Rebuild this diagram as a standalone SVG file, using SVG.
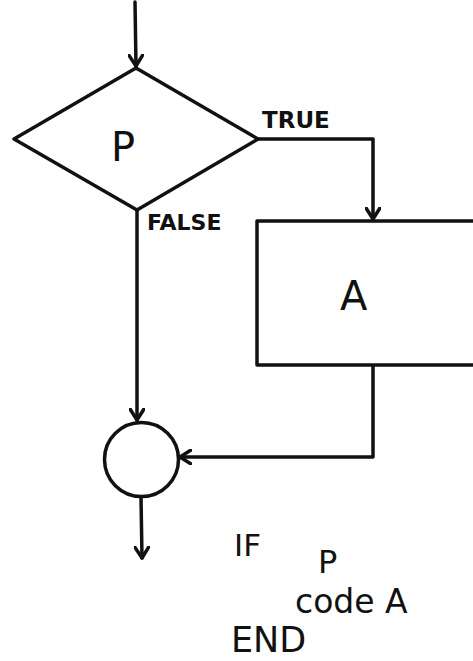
<svg xmlns="http://www.w3.org/2000/svg" width="473" height="661" viewBox="0 0 473 661">
<style>
.s{fill:none;stroke:#111;stroke-width:3.5;stroke-linejoin:round;stroke-linecap:round}
.n{fill:#fff;stroke:#111;stroke-width:3.5;stroke-linejoin:round}
.t{font-family:"DejaVu Sans","Liberation Sans",sans-serif;fill:#111}
.b{font-weight:bold}
</style>
<defs>
<marker id="v" viewBox="-12 -8 14 16" refX="0" refY="0" markerWidth="14" markerHeight="16" markerUnits="userSpaceOnUse" orient="auto">
<path d="M-11,-7 L0,0 L-11,7" fill="none" stroke="#111" stroke-width="3.5" stroke-linecap="round" stroke-linejoin="round"/>
</marker>
</defs>
<rect width="473" height="661" fill="#fff"/>
<g id="connectors">
<path class="s" d="M135,2 L136,66" marker-end="url(#v)"/>
<path class="s" d="M258,139 L373,139 L373,219" marker-end="url(#v)"/>
<path class="s" d="M137,210 L137,420" marker-end="url(#v)"/>
<path class="s" d="M373,364 L373,457 L180,457" marker-end="url(#v)"/>
<path class="s" d="M141,497 L142,558" marker-end="url(#v)"/>
</g>
<g id="decision">
<path class="n" d="M136,68 L258,139 L137,210 L14,139 Z"/>
<text class="t" x="111" y="161" font-size="40">P</text>
<text class="t b" x="262" y="128" font-size="23">TRUE</text>
<text class="t b" x="147" y="230" font-size="22">FALSE</text>
</g>
<g id="process">
<rect class="n" x="257" y="221" width="230" height="144"/>
<text class="t" x="340" y="310" font-size="40">A</text>
</g>
<g id="merge">
<circle class="n" cx="141.5" cy="459.5" r="37"/>
</g>
<g id="code">
<text class="t" x="234" y="556" font-size="31">IF</text>
<text class="t" x="318" y="573" font-size="32">P</text>
<text class="t" x="295" y="613" font-size="33">code A</text>
<text class="t" x="231" y="652" font-size="35">END</text>
</g>
</svg>
